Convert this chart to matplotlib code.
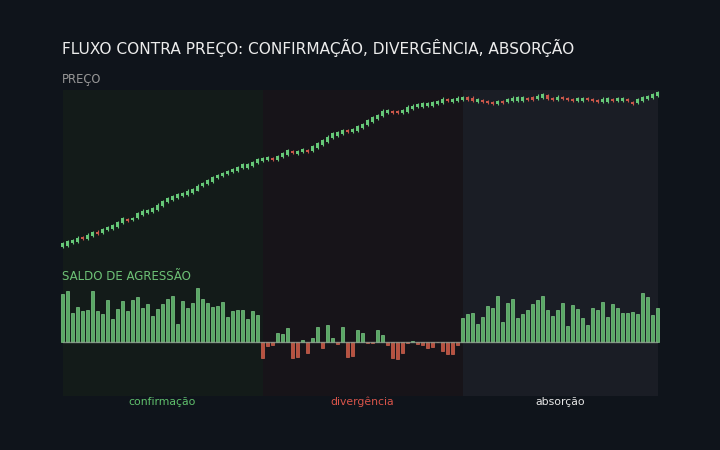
import matplotlib
matplotlib.use("Agg")
import matplotlib.pyplot as plt
import numpy as np

# ---------------- data ----------------
title = "FLUXO CONTRA PREÇO: CONFIRMAÇÃO, DIVERGÊNCIA, ABSORÇÃO"
price_label = "PREÇO"
flow_label = "SALDO DE AGRESSÃO"
phase_names = ["confirmação", "divergência", "absorção"]
phase_bounds = [0, 40, 80, 119]

# mid price of each candle body
mids_confirm = [100.50, 100.67, 100.87, 101.03, 101.17, 101.33, 101.57, 101.73, 101.90, 102.17,
                102.30, 102.57, 102.93, 103.03, 103.10, 103.43, 103.73, 103.83, 104.00, 104.30,
                104.67, 105.00, 105.20, 105.40, 105.53, 105.73, 105.90, 106.20, 106.57, 106.77,
                107.07, 107.37, 107.57, 107.73, 107.93, 108.10, 108.37, 108.40, 108.60, 108.90]
mids_diverge = [109.07, 109.13, 109.13, 109.20, 109.47, 109.73, 109.83, 109.77, 109.93, 109.93,
                110.17, 110.43, 110.77, 111.10, 111.43, 111.63, 111.83, 111.93, 111.93, 112.17,
                112.40, 112.77, 113.03, 113.30, 113.67, 113.83, 113.77, 113.77, 113.83, 114.10,
                114.27, 114.43, 114.50, 114.57, 114.60, 114.73, 114.93, 115.00, 114.97, 115.07]
mids_absorb = [115.17, 115.17, 115.07, 114.93, 114.90, 114.77, 114.67, 114.77, 114.83, 114.93,
               115.07, 115.10, 115.10, 115.10, 115.17, 115.27, 115.40, 115.30, 115.10, 115.17,
               115.23, 115.13, 115.00, 115.03, 115.07, 115.07, 115.00, 114.90, 114.97, 115.00,
               115.00, 115.07, 115.03, 114.97, 114.73, 114.90, 115.10, 115.23, 115.40, 115.60]

# signed body (close - open)
bodies_confirm = [0.35, 0.5, 0.25, 0.4, -0.2, 0.4, 0.4, -0.2, 0.35, 0.3,
                  0.3, 0.45, 0.5, -0.2, 0.25, 0.5, 0.4, 0.25, 0.35, 0.5,
                  0.5, 0.35, 0.3, 0.3, 0.3, 0.4, 0.3, 0.5, 0.3, 0.4,
                  0.5, 0.3, 0.3, 0.3, 0.3, 0.3, 0.4, 0.3, 0.4, 0.4]
bodies_diverge = [0.3, 0.3, -0.2, 0.3, 0.4, 0.5, -0.2, 0.3, 0.35, -0.2,
                  0.45, 0.45, 0.5, 0.5, 0.45, 0.4, 0.4, -0.2, 0.3, 0.45,
                  0.45, 0.5, 0.5, 0.45, 0.55, 0.3, -0.2, -0.2, 0.3, 0.5,
                  0.35, 0.3, 0.3, 0.3, 0.3, 0.35, 0.4, -0.2, 0.3, 0.35]
bodies_absorb = [0.3, -0.25, -0.35, 0.3, -0.2, -0.2, -0.2, 0.3, -0.2, 0.3,
                 0.35, 0.3, 0.3, -0.2, -0.25, 0.35, 0.35, -0.4, -0.2, 0.35,
                 -0.2, -0.2, -0.2, 0.3, 0.3, -0.2, -0.2, -0.2, 0.35, 0.3,
                 -0.2, 0.3, 0.3, -0.2, -0.2, 0.3, 0.35, 0.35, 0.35, 0.35]

# aggression balance per candle
flow_confirm = [14.3, 15.3, 8.7, 10.5, 9.3, 9.7, 15.2, 9.3, 8.5, 12.5,
                7.0, 9.8, 12.2, 9.2, 12.5, 13.5, 10.3, 11.5, 7.8, 9.8,
                11.3, 12.8, 13.9, 5.5, 12.2, 10.1, 11.8, 16.1, 12.8, 11.7,
                10.5, 10.9, 12.0, 7.5, 9.3, 9.6, 9.6, 6.9, 9.2, 8.2]
flow_diverge = [-4.7, -1.2, -0.9, 2.8, 2.4, 4.1, -4.9, -4.4, 0.6, -3.2,
                1.1, 4.4, -1.9, 5.1, 1.1, -0.6, 4.4, -4.4, -4.2, 3.6,
                2.6, -0.4, -0.4, 3.6, 2.0, -0.9, -4.9, -5.2, -3.2, -0.2,
                0.4, -0.6, -0.9, -1.7, -1.6, -0.1, -2.6, -3.6, -3.6, -0.8]
flow_absorb = [7.2, 8.5, 8.8, 5.3, 7.5, 10.7, 10.3, 13.7, 6.1, 11.7,
               12.8, 7.3, 8.3, 9.5, 11.3, 12.5, 13.9, 9.5, 7.8, 9.5,
               11.8, 4.7, 11.0, 9.8, 7.3, 5.2, 10.1, 9.5, 12.1, 7.5,
               11.3, 10.1, 8.7, 8.7, 8.9, 8.4, 14.7, 13.6, 8.1, 10.1]

# ---------------- styling ----------------
BG = "#0f141b"
SHADES = ["#131b19", "#171419", "#1a1d25"]
GREEN = "#66c878"
GREEN_BAR = "#5aa865"
GREEN_EDGE = "#7cc886"
RED = "#c9574a"
RED_BAR = "#b9513f"
PHASE_COLORS = ["#5fbf6c", "#d9544a", "#e6e6e6"]
FONT = "DejaVu Sans"

mids = np.array(mids_confirm + mids_diverge + mids_absorb)
bodies = np.array(bodies_confirm + bodies_diverge + bodies_absorb)
flow = np.array(flow_confirm + flow_diverge + flow_absorb)
x = np.arange(len(mids))
opens = mids - bodies / 2
closes = mids + bodies / 2
up = closes >= opens
cols = np.where(up, GREEN, RED)

W, H = 720, 450
fig = plt.figure(figsize=(7.2, 4.5), dpi=100, facecolor=BG)

def rect(left, top, right, bottom):
    return [left / W, 1 - bottom / H, (right - left) / W, (bottom - top) / H]

XL, XR = 62.5, 657.5
xlim = (phase_bounds[0], phase_bounds[-1])

# background shading
axbg = fig.add_axes(rect(XL, 90, XR, 396))
axbg.set_xlim(*xlim)
axbg.set_ylim(0, 1)
for i in range(3):
    axbg.axvspan(phase_bounds[i], phase_bounds[i + 1], color=SHADES[i], lw=0)
axbg.axis("off")

# price candles
axp = fig.add_axes(rect(XL, 90, XR, 260))
axp.set_xlim(*xlim)
axp.set_ylim(99, 116)
axp.patch.set_alpha(0)
lo = np.minimum(opens, closes)
hi = np.maximum(opens, closes)
axp.vlines(x, lo - 0.1, hi + 0.12, colors=cols, lw=0.8, clip_on=False)
axp.bar(x, hi - lo, bottom=lo, width=0.62, color=cols, lw=0, clip_on=False)
axp.axis("off")

# flow bars
axf = fig.add_axes(rect(XL, 280, XR, 396))
axf.set_xlim(*xlim)
axf.set_ylim(-16.2, 18.6)
axf.patch.set_alpha(0)
fcols = np.where(flow >= 0, GREEN_BAR, RED_BAR)
ecols = np.where(flow >= 0, GREEN_EDGE, "#cf6654")
axf.bar(x, flow, width=0.68, color=fcols, edgecolor=ecols, lw=0.5, clip_on=False)
axf.axhline(0, color="#8e9d90", lw=1.0, alpha=0.8)
axf.axis("off")

# texts
fig.text(62 / W, 1 - 48 / H, title, color="#ececec", fontsize=11.1,
         family=FONT, va="center", ha="left")
fig.text(62 / W, 1 - 80 / H, price_label, color="#979797", fontsize=8.3,
         family=FONT, va="center", ha="left")
fig.text(62 / W, 1 - 277 / H, flow_label, color="#6dc176", fontsize=8.5,
         family=FONT, va="center", ha="left")
for i in range(3):
    cx = XL + (XR - XL) * ((phase_bounds[i] + phase_bounds[i + 1]) / 2 - xlim[0]) / (xlim[1] - xlim[0])
    fig.text(cx / W, 1 - 402 / H, phase_names[i], color=PHASE_COLORS[i],
             fontsize=7.8, family=FONT, va="center", ha="center")

fig.savefig("out.png", dpi=100, facecolor=BG)
